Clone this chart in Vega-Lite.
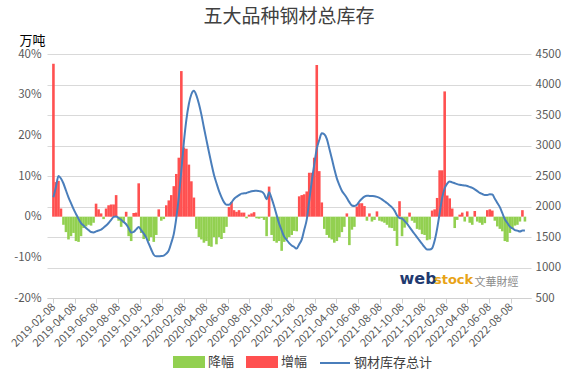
{
  "$schema": "https://vega.github.io/schema/vega-lite/v6.json",
  "width": 484,
  "height": 244,
  "autosize": {"type": "none"},
  "padding": {"left": 47, "top": 54, "right": 45, "bottom": 81},
  "background": "white",
  "title": {"text": "五大品种钢材总库存", "frame": "group", "anchor": "middle", "fontSize": 19, "fontWeight": "normal", "color": "#404040", "offset": 7},
  "config": {
    "font": "Noto Sans CJK SC",
    "view": {"stroke": null},
    "axis": {"labelFontSize": 11.5, "labelColor": "#595959", "domain": false, "ticks": false, "grid": false}
  },
  "datasets": {
    "weekly": [
{"d":"2019-02-08","p":0.376,"v":2150,"t":"增幅"},
{"d":"2019-02-15","p":0.085,"v":2320,"t":"增幅"},
{"d":"2019-02-22","p":0.088,"v":2500,"t":"增幅"},
{"d":"2019-03-01","p":0.020,"v":2460,"t":"增幅"},
{"d":"2019-03-08","p":-0.020,"v":2377,"t":"降幅"},
{"d":"2019-03-15","p":-0.038,"v":2262,"t":"降幅"},
{"d":"2019-03-22","p":-0.056,"v":2151,"t":"降幅"},
{"d":"2019-03-29","p":-0.048,"v":2055,"t":"降幅"},
{"d":"2019-04-05","p":-0.040,"v":1960,"t":"降幅"},
{"d":"2019-04-12","p":-0.060,"v":1877,"t":"降幅"},
{"d":"2019-04-19","p":-0.062,"v":1797,"t":"降幅"},
{"d":"2019-04-26","p":-0.048,"v":1728,"t":"降幅"},
{"d":"2019-05-03","p":-0.028,"v":1688,"t":"降幅"},
{"d":"2019-05-10","p":-0.024,"v":1648,"t":"降幅"},
{"d":"2019-05-17","p":-0.020,"v":1614,"t":"降幅"},
{"d":"2019-05-24","p":-0.022,"v":1582,"t":"降幅"},
{"d":"2019-05-31","p":-0.015,"v":1575,"t":"降幅"},
{"d":"2019-06-07","p":0.032,"v":1592,"t":"增幅"},
{"d":"2019-06-14","p":0.018,"v":1607,"t":"增幅"},
{"d":"2019-06-21","p":0.008,"v":1620,"t":"增幅"},
{"d":"2019-06-28","p":-0.006,"v":1653,"t":"降幅"},
{"d":"2019-07-05","p":0.020,"v":1687,"t":"增幅"},
{"d":"2019-07-12","p":0.028,"v":1730,"t":"增幅"},
{"d":"2019-07-19","p":0.030,"v":1780,"t":"增幅"},
{"d":"2019-07-26","p":0.030,"v":1830,"t":"增幅"},
{"d":"2019-08-02","p":0.053,"v":1836,"t":"增幅"},
{"d":"2019-08-09","p":-0.010,"v":1812,"t":"降幅"},
{"d":"2019-08-16","p":-0.025,"v":1782,"t":"降幅"},
{"d":"2019-08-23","p":-0.015,"v":1746,"t":"降幅"},
{"d":"2019-08-30","p":0.012,"v":1709,"t":"增幅"},
{"d":"2019-09-06","p":-0.048,"v":1645,"t":"降幅"},
{"d":"2019-09-13","p":-0.060,"v":1574,"t":"降幅"},
{"d":"2019-09-20","p":0.009,"v":1585,"t":"增幅"},
{"d":"2019-09-27","p":0.010,"v":1625,"t":"增幅"},
{"d":"2019-10-04","p":0.082,"v":1665,"t":"增幅"},
{"d":"2019-10-11","p":-0.040,"v":1611,"t":"降幅"},
{"d":"2019-10-18","p":-0.055,"v":1558,"t":"降幅"},
{"d":"2019-10-25","p":-0.050,"v":1490,"t":"降幅"},
{"d":"2019-11-01","p":-0.060,"v":1390,"t":"降幅"},
{"d":"2019-11-08","p":-0.050,"v":1295,"t":"降幅"},
{"d":"2019-11-15","p":-0.062,"v":1209,"t":"降幅"},
{"d":"2019-11-22","p":-0.045,"v":1183,"t":"降幅"},
{"d":"2019-11-29","p":0.018,"v":1183,"t":"增幅"},
{"d":"2019-12-06","p":-0.010,"v":1187,"t":"降幅"},
{"d":"2019-12-13","p":-0.006,"v":1196,"t":"降幅"},
{"d":"2019-12-20","p":0.028,"v":1227,"t":"增幅"},
{"d":"2019-12-27","p":0.040,"v":1281,"t":"增幅"},
{"d":"2020-01-03","p":0.053,"v":1407,"t":"增幅"},
{"d":"2020-01-10","p":0.075,"v":1552,"t":"增幅"},
{"d":"2020-01-17","p":0.105,"v":1812,"t":"增幅"},
{"d":"2020-01-24","p":0.145,"v":2158,"t":"增幅"},
{"d":"2020-01-31","p":0.358,"v":2587,"t":"增幅"},
{"d":"2020-02-07","p":0.170,"v":3050,"t":"增幅"},
{"d":"2020-02-14","p":0.167,"v":3420,"t":"增幅"},
{"d":"2020-02-21","p":0.128,"v":3680,"t":"增幅"},
{"d":"2020-02-28","p":0.087,"v":3840,"t":"增幅"},
{"d":"2020-03-06","p":0.047,"v":3898,"t":"增幅"},
{"d":"2020-03-13","p":-0.030,"v":3821,"t":"降幅"},
{"d":"2020-03-20","p":-0.050,"v":3683,"t":"降幅"},
{"d":"2020-03-27","p":-0.056,"v":3506,"t":"降幅"},
{"d":"2020-04-03","p":-0.064,"v":3294,"t":"降幅"},
{"d":"2020-04-10","p":-0.060,"v":3093,"t":"降幅"},
{"d":"2020-04-17","p":-0.072,"v":2894,"t":"降幅"},
{"d":"2020-04-24","p":-0.074,"v":2702,"t":"降幅"},
{"d":"2020-05-01","p":-0.050,"v":2522,"t":"降幅"},
{"d":"2020-05-08","p":-0.068,"v":2385,"t":"降幅"},
{"d":"2020-05-15","p":-0.050,"v":2256,"t":"降幅"},
{"d":"2020-05-22","p":-0.055,"v":2155,"t":"降幅"},
{"d":"2020-05-29","p":-0.040,"v":2072,"t":"降幅"},
{"d":"2020-06-05","p":-0.025,"v":2028,"t":"降幅"},
{"d":"2020-06-12","p":0.024,"v":2029,"t":"增幅"},
{"d":"2020-06-19","p":0.036,"v":2068,"t":"增幅"},
{"d":"2020-06-26","p":0.016,"v":2123,"t":"增幅"},
{"d":"2020-07-03","p":0.012,"v":2158,"t":"增幅"},
{"d":"2020-07-10","p":0.016,"v":2185,"t":"增幅"},
{"d":"2020-07-17","p":0.010,"v":2211,"t":"增幅"},
{"d":"2020-07-24","p":0.010,"v":2216,"t":"增幅"},
{"d":"2020-07-31","p":-0.004,"v":2222,"t":"降幅"},
{"d":"2020-08-07","p":0.005,"v":2237,"t":"增幅"},
{"d":"2020-08-14","p":0.008,"v":2250,"t":"增幅"},
{"d":"2020-08-21","p":0.011,"v":2255,"t":"增幅"},
{"d":"2020-08-28","p":-0.004,"v":2259,"t":"降幅"},
{"d":"2020-09-04","p":-0.005,"v":2252,"t":"降幅"},
{"d":"2020-09-11","p":-0.003,"v":2244,"t":"降幅"},
{"d":"2020-09-18","p":-0.008,"v":2206,"t":"降幅"},
{"d":"2020-09-25","p":-0.048,"v":2120,"t":"降幅"},
{"d":"2020-10-02","p":0.074,"v":2235,"t":"增幅"},
{"d":"2020-10-09","p":-0.045,"v":2132,"t":"降幅"},
{"d":"2020-10-16","p":-0.060,"v":2003,"t":"降幅"},
{"d":"2020-10-23","p":-0.064,"v":1859,"t":"降幅"},
{"d":"2020-10-30","p":-0.060,"v":1719,"t":"降幅"},
{"d":"2020-11-06","p":-0.084,"v":1610,"t":"降幅"},
{"d":"2020-11-13","p":-0.062,"v":1506,"t":"降幅"},
{"d":"2020-11-20","p":-0.055,"v":1453,"t":"降幅"},
{"d":"2020-11-27","p":-0.050,"v":1400,"t":"降幅"},
{"d":"2020-12-04","p":-0.045,"v":1361,"t":"降幅"},
{"d":"2020-12-11","p":-0.035,"v":1336,"t":"降幅"},
{"d":"2020-12-18","p":-0.036,"v":1310,"t":"降幅"},
{"d":"2020-12-25","p":0.050,"v":1383,"t":"增幅"},
{"d":"2021-01-01","p":0.053,"v":1456,"t":"增幅"},
{"d":"2021-01-08","p":0.055,"v":1620,"t":"增幅"},
{"d":"2021-01-15","p":0.062,"v":1784,"t":"增幅"},
{"d":"2021-01-22","p":0.108,"v":2100,"t":"增幅"},
{"d":"2021-01-29","p":0.108,"v":2412,"t":"增幅"},
{"d":"2021-02-05","p":0.145,"v":2686,"t":"增幅"},
{"d":"2021-02-12","p":0.373,"v":2946,"t":"增幅"},
{"d":"2021-02-19","p":0.112,"v":3090,"t":"增幅"},
{"d":"2021-02-26","p":0.035,"v":3200,"t":"增幅"},
{"d":"2021-03-05","p":-0.030,"v":3183,"t":"降幅"},
{"d":"2021-03-12","p":-0.045,"v":3108,"t":"降幅"},
{"d":"2021-03-19","p":-0.052,"v":2952,"t":"降幅"},
{"d":"2021-03-26","p":-0.056,"v":2787,"t":"降幅"},
{"d":"2021-04-02","p":-0.064,"v":2615,"t":"降幅"},
{"d":"2021-04-09","p":-0.060,"v":2461,"t":"降幅"},
{"d":"2021-04-16","p":-0.050,"v":2352,"t":"降幅"},
{"d":"2021-04-23","p":-0.038,"v":2259,"t":"降幅"},
{"d":"2021-04-30","p":-0.025,"v":2201,"t":"降幅"},
{"d":"2021-05-07","p":0.008,"v":2140,"t":"增幅"},
{"d":"2021-05-14","p":-0.070,"v":2071,"t":"降幅"},
{"d":"2021-05-21","p":-0.032,"v":2016,"t":"降幅"},
{"d":"2021-05-28","p":-0.025,"v":2008,"t":"降幅"},
{"d":"2021-06-04","p":0.025,"v":2028,"t":"增幅"},
{"d":"2021-06-11","p":0.033,"v":2084,"t":"增幅"},
{"d":"2021-06-18","p":0.033,"v":2128,"t":"增幅"},
{"d":"2021-06-25","p":0.026,"v":2162,"t":"增幅"},
{"d":"2021-07-02","p":-0.010,"v":2177,"t":"降幅"},
{"d":"2021-07-09","p":0.008,"v":2174,"t":"增幅"},
{"d":"2021-07-16","p":-0.012,"v":2171,"t":"降幅"},
{"d":"2021-07-23","p":-0.008,"v":2168,"t":"降幅"},
{"d":"2021-07-30","p":0.013,"v":2158,"t":"增幅"},
{"d":"2021-08-06","p":-0.010,"v":2143,"t":"降幅"},
{"d":"2021-08-13","p":-0.012,"v":2118,"t":"降幅"},
{"d":"2021-08-20","p":-0.015,"v":2087,"t":"降幅"},
{"d":"2021-08-27","p":-0.020,"v":2057,"t":"降幅"},
{"d":"2021-09-03","p":-0.027,"v":2022,"t":"降幅"},
{"d":"2021-09-10","p":-0.028,"v":1985,"t":"降幅"},
{"d":"2021-09-17","p":-0.035,"v":1932,"t":"降幅"},
{"d":"2021-09-24","p":-0.072,"v":1853,"t":"降幅"},
{"d":"2021-10-01","p":0.038,"v":1811,"t":"增幅"},
{"d":"2021-10-08","p":-0.048,"v":1803,"t":"降幅"},
{"d":"2021-10-15","p":-0.027,"v":1762,"t":"降幅"},
{"d":"2021-10-22","p":-0.015,"v":1718,"t":"降幅"},
{"d":"2021-10-29","p":0.010,"v":1661,"t":"增幅"},
{"d":"2021-11-05","p":-0.010,"v":1604,"t":"降幅"},
{"d":"2021-11-12","p":-0.015,"v":1549,"t":"降幅"},
{"d":"2021-11-19","p":-0.030,"v":1495,"t":"降幅"},
{"d":"2021-11-26","p":-0.032,"v":1440,"t":"降幅"},
{"d":"2021-12-03","p":-0.043,"v":1386,"t":"降幅"},
{"d":"2021-12-10","p":-0.045,"v":1334,"t":"降幅"},
{"d":"2021-12-17","p":-0.058,"v":1296,"t":"降幅"},
{"d":"2021-12-24","p":-0.056,"v":1294,"t":"降幅"},
{"d":"2021-12-31","p":0.015,"v":1316,"t":"增幅"},
{"d":"2022-01-07","p":0.018,"v":1438,"t":"增幅"},
{"d":"2022-01-14","p":0.046,"v":1637,"t":"增幅"},
{"d":"2022-01-21","p":0.114,"v":1889,"t":"增幅"},
{"d":"2022-01-28","p":0.114,"v":2142,"t":"增幅"},
{"d":"2022-02-04","p":0.308,"v":2299,"t":"增幅"},
{"d":"2022-02-11","p":0.052,"v":2376,"t":"增幅"},
{"d":"2022-02-18","p":0.045,"v":2410,"t":"增幅"},
{"d":"2022-02-25","p":0.020,"v":2396,"t":"增幅"},
{"d":"2022-03-04","p":-0.028,"v":2381,"t":"降幅"},
{"d":"2022-03-11","p":-0.008,"v":2367,"t":"降幅"},
{"d":"2022-03-18","p":0.005,"v":2356,"t":"增幅"},
{"d":"2022-03-25","p":0.010,"v":2350,"t":"增幅"},
{"d":"2022-04-01","p":-0.012,"v":2344,"t":"降幅"},
{"d":"2022-04-08","p":0.013,"v":2336,"t":"增幅"},
{"d":"2022-04-15","p":-0.015,"v":2321,"t":"降幅"},
{"d":"2022-04-22","p":-0.020,"v":2306,"t":"降幅"},
{"d":"2022-04-29","p":0.014,"v":2282,"t":"增幅"},
{"d":"2022-05-06","p":-0.012,"v":2253,"t":"降幅"},
{"d":"2022-05-13","p":-0.015,"v":2223,"t":"降幅"},
{"d":"2022-05-20","p":-0.020,"v":2205,"t":"降幅"},
{"d":"2022-05-27","p":-0.016,"v":2188,"t":"降幅"},
{"d":"2022-06-03","p":0.016,"v":2187,"t":"增幅"},
{"d":"2022-06-10","p":0.018,"v":2200,"t":"增幅"},
{"d":"2022-06-17","p":0.015,"v":2196,"t":"增幅"},
{"d":"2022-06-24","p":-0.010,"v":2128,"t":"降幅"},
{"d":"2022-07-01","p":-0.024,"v":2059,"t":"降幅"},
{"d":"2022-07-08","p":-0.030,"v":1990,"t":"降幅"},
{"d":"2022-07-15","p":-0.036,"v":1890,"t":"降幅"},
{"d":"2022-07-22","p":-0.060,"v":1790,"t":"降幅"},
{"d":"2022-07-29","p":-0.062,"v":1730,"t":"降幅"},
{"d":"2022-08-05","p":-0.040,"v":1670,"t":"降幅"},
{"d":"2022-08-12","p":-0.030,"v":1643,"t":"降幅"},
{"d":"2022-08-19","p":-0.022,"v":1614,"t":"降幅"},
{"d":"2022-08-26","p":-0.020,"v":1604,"t":"降幅"},
{"d":"2022-09-02","p":-0.012,"v":1591,"t":"降幅"},
{"d":"2022-09-09","p":0.016,"v":1605,"t":"增幅"},
{"d":"2022-09-16","p":-0.012,"v":1608,"t":"降幅"}
    ],
    "mark": [
      {"s": "web", "d": "2021-10-01"},
      {"s": "stock", "d": "2022-01-05"},
      {"s": "文華財經", "d": "2022-04-28"}
    ]
  },
  "layer": [
    {
      "data": {"name": "weekly"},
      "mark": {"type": "bar", "size": 2.6},
      "encoding": {
        "x": {
          "field": "d", "type": "temporal",
          "scale": {"type": "utc", "domain": [{"year": 2019, "month": 2, "date": 4, "utc": true}, {"year": 2022, "month": 9, "date": 19, "utc": true}]},
          "axis": {
            "title": null, "grid": false, "domain": true, "domainColor": "#D0D0D0", "ticks": true, "tickColor": "#D0D0D0", "tickSize": 5,
            "labelAngle": -45, "labelAlign": "right", "labelBaseline": "middle", "labelPadding": 2, "labelOverlap": false, "labelFontSize": 11,
            "format": "%Y-%m-%d",
            "values": [
              {"year": 2019, "month": 2, "date": 8, "utc": true}, {"year": 2019, "month": 4, "date": 8, "utc": true}, {"year": 2019, "month": 6, "date": 8, "utc": true}, {"year": 2019, "month": 8, "date": 8, "utc": true}, {"year": 2019, "month": 10, "date": 8, "utc": true}, {"year": 2019, "month": 12, "date": 8, "utc": true},
              {"year": 2020, "month": 2, "date": 8, "utc": true}, {"year": 2020, "month": 4, "date": 8, "utc": true}, {"year": 2020, "month": 6, "date": 8, "utc": true}, {"year": 2020, "month": 8, "date": 8, "utc": true}, {"year": 2020, "month": 10, "date": 8, "utc": true}, {"year": 2020, "month": 12, "date": 8, "utc": true},
              {"year": 2021, "month": 2, "date": 8, "utc": true}, {"year": 2021, "month": 4, "date": 8, "utc": true}, {"year": 2021, "month": 6, "date": 8, "utc": true}, {"year": 2021, "month": 8, "date": 8, "utc": true}, {"year": 2021, "month": 10, "date": 8, "utc": true}, {"year": 2021, "month": 12, "date": 8, "utc": true},
              {"year": 2022, "month": 2, "date": 8, "utc": true}, {"year": 2022, "month": 4, "date": 8, "utc": true}, {"year": 2022, "month": 6, "date": 8, "utc": true}, {"year": 2022, "month": 8, "date": 8, "utc": true}
            ]
          }
        },
        "y": {"field": "p", "type": "quantitative", "scale": {"domain": [-0.2, 0.4], "nice": false, "zero": false},
              "axis": {"orient": "left", "values": [-0.2, -0.1, 0, 0.1, 0.2, 0.3, 0.4], "labelExpr": "round(datum.value * 100) + '%'", "labelPadding": 6,
                       "title": "万吨", "titleAngle": 0, "titleX": -15, "titleY": -14, "titleAlign": "center", "titleBaseline": "middle", "titleFontSize": 13, "titleFontWeight": "normal", "titleColor": "#000000"}},
        "color": {"field": "t", "type": "nominal",
                  "scale": {"domain": ["降幅", "增幅", "钢材库存总计"], "range": ["#92D050", "#FF5050", "#4A7EBB"]},
                  "legend": {"title": null, "orient": "none", "legendX": 126, "legendY": 292, "padding": 0, "direction": "horizontal", "labelFontSize": 13, "labelColor": "#404040",
                             "symbolType": {"expr": "datum.value === '钢材库存总计' ? 'M-1,0H1' : 'M-1,-0.33H1V0.33H-1Z'"},
                             "symbolSize": 900, "symbolStrokeWidth": 2, "columnPadding": 8, "labelOffset": 3}}
      }
    },
    {
      "data": {"name": "weekly"},
      "mark": {"type": "line", "interpolate": "monotone", "strokeWidth": 2},
      "encoding": {
        "x": {"field": "d", "type": "temporal", "axis": null},
        "y": {"field": "v", "type": "quantitative", "scale": {"domain": [500, 4500], "nice": false, "zero": false},
              "axis": {"orient": "right", "values": [500, 1000, 1500, 2000, 2500, 3000, 3500, 4000, 4500], "format": "d", "grid": true, "gridColor": "#D9D9D9", "labelPadding": 4, "title": null}},
        "color": {"datum": "钢材库存总计"}
      }
    },
    {
      "data": {"name": "mark"},
      "transform": [{"filter": "datum.s === 'web'"}],
      "mark": {"type": "text", "align": "left", "baseline": "alphabetic", "font": "DejaVu Sans", "fontWeight": "bold", "fontSize": 16, "fill": "#1F3A70"},
      "encoding": {
        "x": {"field": "d", "type": "temporal", "axis": null},
        "y": {"datum": 734, "type": "quantitative", "scale": {"domain": [500, 4500], "nice": false, "zero": false}, "axis": null},
        "text": {"field": "s"}
      }
    },
    {
      "data": {"name": "mark"},
      "transform": [{"filter": "datum.s === 'stock'"}],
      "mark": {"type": "text", "align": "left", "baseline": "alphabetic", "font": "DejaVu Sans", "fontWeight": "bold", "fontSize": 13, "fill": "#E8A317"},
      "encoding": {
        "x": {"field": "d", "type": "temporal", "axis": null},
        "y": {"datum": 734, "type": "quantitative", "scale": {"domain": [500, 4500], "nice": false, "zero": false}, "axis": null},
        "text": {"field": "s"}
      }
    },
    {
      "data": {"name": "mark"},
      "transform": [{"filter": "datum.s === '文華財經'"}],
      "mark": {"type": "text", "align": "left", "baseline": "alphabetic", "fontSize": 11, "fill": "#8C8C8C"},
      "encoding": {
        "x": {"field": "d", "type": "temporal", "axis": null},
        "y": {"datum": 702, "type": "quantitative", "scale": {"domain": [500, 4500], "nice": false, "zero": false}, "axis": null},
        "text": {"field": "s"}
      }
    }
  ],
  "resolve": {"scale": {"y": "independent"}, "axis": {"x": "independent"}}
}
